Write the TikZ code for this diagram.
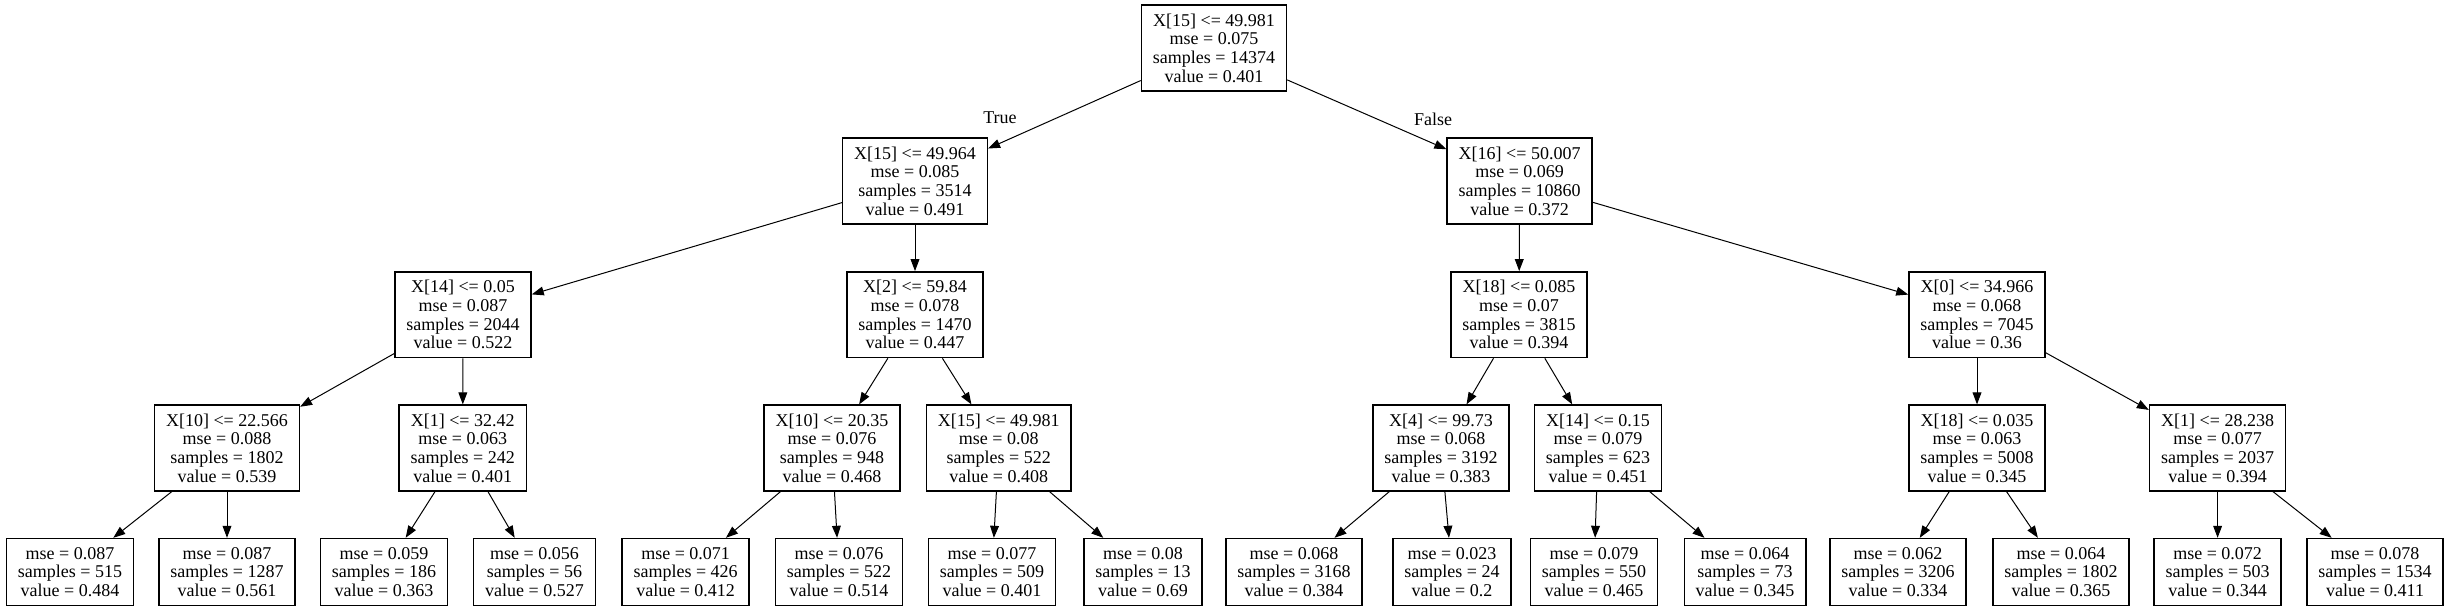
\documentclass[tikz,border=0pt]{standalone}
\usepackage{fontspec}
\setmainfont{Liberation Serif}
\usetikzlibrary{arrows.meta}

\tikzset{every picture/.style={line width=0.75pt}}
\tikzset{
	split/.style={draw, line width=1.1pt, rectangle, align=center,
		font=\fontsize{13.5}{14}\selectfont, inner xsep=8.6pt, inner ysep=0pt,
		minimum height=64.3pt},
	leaf/.style={split, minimum height=50.2pt},
	edge/.style={-{Triangle[length=9pt,width=6.6pt]}, line width=0.75pt},
	branch/.style={font=\fontsize{13.5}{14}\selectfont}}

\begin{document}
\begin{tikzpicture}[x=0.75pt,y=0.75pt,yscale=-1,xscale=1]
	\useasboundingbox (0,0) rectangle (2453,611);

	% Root
	\node[split] (n0) at (1214,48) {X[15] <= 49.981\\mse = 0.075\\samples = 14374\\value = 0.401};

	% Depth 1
	\node[split] (n1) at (915,181) {X[15] <= 49.964\\mse = 0.085\\samples = 3514\\value = 0.491};
	\node[split] (n2) at (1519.6,181) {X[16] <= 50.007\\mse = 0.069\\samples = 10860\\value = 0.372};

	% Depth 2
	\node[split] (n3) at (463,314.7) {X[14] <= 0.05\\mse = 0.087\\samples = 2044\\value = 0.522};
	\node[split] (n4) at (915,314.7) {X[2] <= 59.84\\mse = 0.078\\samples = 1470\\value = 0.447};
	\node[split] (n5) at (1519,314.7) {X[18] <= 0.085\\mse = 0.07\\samples = 3815\\value = 0.394};
	\node[split] (n6) at (1977,314.7) {X[0] <= 34.966\\mse = 0.068\\samples = 7045\\value = 0.36};

	% Depth 3
	\node[split] (n7) at (227,448) {X[10] <= 22.566\\mse = 0.088\\samples = 1802\\value = 0.539};
	\node[split] (n8) at (462.7,448) {X[1] <= 32.42\\mse = 0.063\\samples = 242\\value = 0.401};
	\node[split] (n9) at (832,448) {X[10] <= 20.35\\mse = 0.076\\samples = 948\\value = 0.468};
	\node[split] (n10) at (998.8,448) {X[15] <= 49.981\\mse = 0.08\\samples = 522\\value = 0.408};
	\node[split] (n11) at (1441,448) {X[4] <= 99.73\\mse = 0.068\\samples = 3192\\value = 0.383};
	\node[split] (n12) at (1598,448) {X[14] <= 0.15\\mse = 0.079\\samples = 623\\value = 0.451};
	\node[split] (n13) at (1977,448) {X[18] <= 0.035\\mse = 0.063\\samples = 5008\\value = 0.345};
	\node[split] (n14) at (2217.6,448) {X[1] <= 28.238\\mse = 0.077\\samples = 2037\\value = 0.394};

	% Leaves
	\node[leaf] (l1) at (70,572) {mse = 0.087\\samples = 515\\value = 0.484};
	\node[leaf] (l2) at (227,572) {mse = 0.087\\samples = 1287\\value = 0.561};
	\node[leaf] (l3) at (384,572) {mse = 0.059\\samples = 186\\value = 0.363};
	\node[leaf] (l4) at (534.5,572) {mse = 0.056\\samples = 56\\value = 0.527};
	\node[leaf] (l5) at (685.6,572) {mse = 0.071\\samples = 426\\value = 0.412};
	\node[leaf] (l6) at (839,572) {mse = 0.076\\samples = 522\\value = 0.514};
	\node[leaf] (l7) at (992,572) {mse = 0.077\\samples = 509\\value = 0.401};
	\node[leaf] (l8) at (1143,572) {mse = 0.08\\samples = 13\\value = 0.69};
	\node[leaf] (l9) at (1294,572) {mse = 0.068\\samples = 3168\\value = 0.384};
	\node[leaf] (l10) at (1452,572) {mse = 0.023\\samples = 24\\value = 0.2};
	\node[leaf] (l11) at (1594,572) {mse = 0.079\\samples = 550\\value = 0.465};
	\node[leaf] (l12) at (1745,572) {mse = 0.064\\samples = 73\\value = 0.345};
	\node[leaf] (l13) at (1898,572) {mse = 0.062\\samples = 3206\\value = 0.334};
	\node[leaf] (l14) at (2061,572) {mse = 0.064\\samples = 1802\\value = 0.365};
	\node[leaf] (l15) at (2217.6,572) {mse = 0.072\\samples = 503\\value = 0.344};
	\node[leaf] (l16) at (2375,572) {mse = 0.078\\samples = 1534\\value = 0.411};

	% Edges
	\draw[edge] (n0) -- (n1);
	\draw[edge] (n0) -- (n2);
	\draw[edge] (n1) -- (n3);
	\draw[edge] (n1) -- (n4);
	\draw[edge] (n2) -- (n5);
	\draw[edge] (n2) -- (n6);
	\draw[edge] (n3) -- (n7);
	\draw[edge] (n3) -- (n8);
	\draw[edge] (n4) -- (n9);
	\draw[edge] (n4) -- (n10);
	\draw[edge] (n5) -- (n11);
	\draw[edge] (n5) -- (n12);
	\draw[edge] (n6) -- (n13);
	\draw[edge] (n6) -- (n14);
	\draw[edge] (n7) -- (l1);
	\draw[edge] (n7) -- (l2);
	\draw[edge] (n8) -- (l3);
	\draw[edge] (n8) -- (l4);
	\draw[edge] (n9) -- (l5);
	\draw[edge] (n9) -- (l6);
	\draw[edge] (n10) -- (l7);
	\draw[edge] (n10) -- (l8);
	\draw[edge] (n11) -- (l9);
	\draw[edge] (n11) -- (l10);
	\draw[edge] (n12) -- (l11);
	\draw[edge] (n12) -- (l12);
	\draw[edge] (n13) -- (l13);
	\draw[edge] (n13) -- (l14);
	\draw[edge] (n14) -- (l15);
	\draw[edge] (n14) -- (l16);

	% Text Node
	\node[branch] (t) at (1000,118) {True};
	% Text Node
	\node[branch] (f) at (1433,119.5) {False};

\end{tikzpicture}
\end{document}
